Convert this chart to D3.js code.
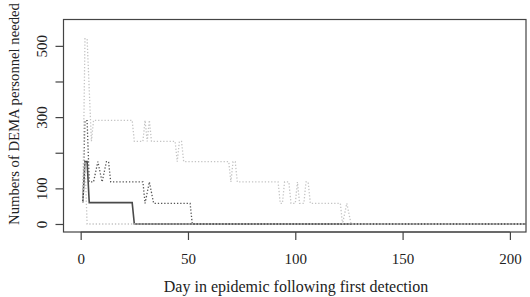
<!DOCTYPE html>
<html><head><meta charset="utf-8">
<script src="https://cdn.jsdelivr.net/npm/d3@7"></script>
<style>body{margin:0;background:#fff}svg{display:block}</style>
</head><body>
<script>
// Day / value breakpoints (lines connect daily values)
const medianDays = [1, 2, 3, 4, 24, 25, 207.5];
const medianVals = [62, 175, 175, 60, 60, 0, 0];

const upperDays = [1, 2, 3, 4, 6, 8, 10, 12, 13, 14, 29, 30, 32, 34, 51, 52, 207.5];
const upperVals = [60, 290, 290, 118, 118, 175, 118, 175, 175, 118, 118, 58, 118, 58, 58, 0, 0];

const maxDays = [1, 2, 3, 5, 6, 24, 25, 29, 30, 31, 32, 33, 44, 45, 46, 47, 48, 69, 70, 71, 72, 73, 92, 93, 94, 95, 97, 98, 100, 101, 102, 104, 105, 106, 107, 121, 122, 124, 126, 207.5];
const maxVals = [60, 520, 520, 232, 291, 291, 232, 232, 291, 232, 291, 232, 232, 175, 232, 232, 175, 175, 118, 175, 175, 118, 118, 58, 58, 118, 118, 58, 58, 118, 58, 58, 118, 118, 58, 58, 0, 58, 0, 0];

const minDays = [1, 2, 3, 207.5];
const minVals = [60, 175, 0, 0];

const xTicks = [0, 50, 100, 150, 200];
const yTicks = [0, 100, 200, 300, 400, 500];
const yTickLabels = ["0", "100", "", "300", "", "500"];

const W = 530, H = 297;
const mLeft = 63.5, mRight = 526, mTop = 19.5, mBottom = 232;
const x = d3.scaleLinear().domain([-8, 207.5]).range([mLeft, mRight]);
const y = d3.scaleLinear().domain([-22.5, 574]).range([mBottom, mTop]);

const svg = d3.select("body").append("svg").attr("width", W).attr("height", H);
const font = "'Liberation Serif', 'Times New Roman', serif";

const line = d3.line().x(d => x(d[0])).y(d => y(d[1]));
const pts = (ds, vs) => ds.map((d, i) => [d, vs[i]]);

const g = svg.append("g");
g.append("path").datum(pts(medianDays, medianVals)).attr("d", line)
  .attr("fill", "none").attr("stroke", "#4a4a4a").attr("stroke-width", 1.6);
g.append("path").datum(pts(upperDays, upperVals)).attr("d", line)
  .attr("fill", "none").attr("stroke", "#555").attr("stroke-width", 1.3).attr("stroke-dasharray", "1.3,1.9");
g.append("path").datum(pts(maxDays, maxVals)).attr("d", line)
  .attr("fill", "none").attr("stroke", "#c4c4c4").attr("stroke-width", 1.3).attr("stroke-dasharray", "1.3,1.9");
g.append("path").datum(pts(minDays, minVals)).attr("d", line)
  .attr("fill", "none").attr("stroke", "#c4c4c4").attr("stroke-width", 1.3).attr("stroke-dasharray", "1.3,1.9");

// box
svg.append("rect").attr("x", mLeft).attr("y", mTop).attr("width", mRight - mLeft).attr("height", mBottom - mTop)
  .attr("fill", "none").attr("stroke", "#444").attr("stroke-width", 1.2);

// x axis
const xa = svg.append("g").attr("transform", `translate(0,${mBottom})`)
  .call(d3.axisBottom(x).tickValues(xTicks).tickSize(8).tickSizeOuter(0).tickPadding(13));
xa.select(".domain").attr("stroke", "#444").attr("d", `M${x(0)},0H${x(200)}`);
xa.selectAll(".tick line").attr("stroke", "#444").attr("stroke-width", 1.2);
xa.selectAll("text").attr("font-family", font).attr("font-size", 15).attr("fill", "#222");

// y axis
const ya = svg.append("g").attr("transform", `translate(${mLeft},0)`)
  .call(d3.axisLeft(y).tickValues(yTicks).tickSize(8).tickSizeOuter(0).tickFormat((d, i) => yTickLabels[i]));
ya.select(".domain").attr("stroke", "#444").attr("d", `M0,${y(0)}V${y(500)}`);
ya.selectAll(".tick line").attr("stroke", "#444").attr("stroke-width", 1.2);
ya.selectAll("text").attr("font-family", font).attr("font-size", 15).attr("fill", "#222")
  .attr("text-anchor", "middle").attr("transform", "rotate(-90)")
  .attr("x", 0).attr("dy", 0).attr("y", -16.5);

svg.append("text").attr("x", 296).attr("y", 291.5)
  .attr("text-anchor", "middle").attr("font-family", font).attr("font-size", 16).attr("fill", "#222")
  .text("Day in epidemic following first detection");

svg.append("text").attr("transform", `translate(18.5,114) rotate(-90)`)
  .attr("text-anchor", "middle").attr("font-family", font).attr("font-size", 14.7).attr("fill", "#222")
  .text("Numbers of DEMA personnel needed");
</script>
</body></html>
